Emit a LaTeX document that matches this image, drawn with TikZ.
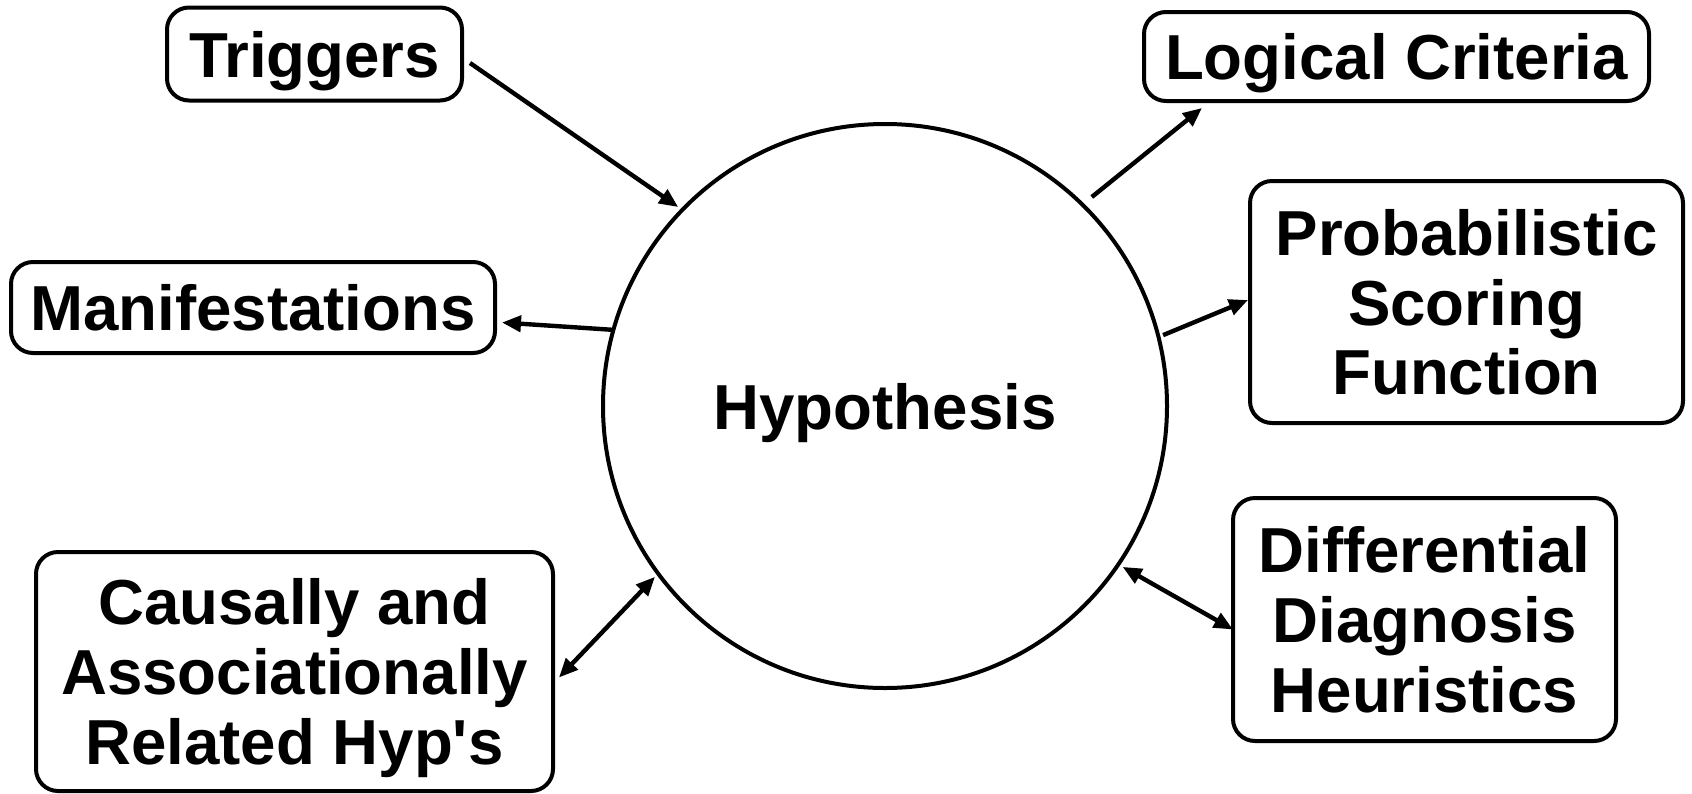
\documentclass[tikz,border=0pt]{standalone}
\usepackage{fontspec}
\setmainfont{Liberation Sans}
\usetikzlibrary{arrows.meta,calc}

\begin{document}
\begin{tikzpicture}[x=0.5pt,y=0.5pt,
  lbl/.style={font=\bfseries\fontsize{31.8}{34.8}\selectfont, align=center, inner sep=0pt, text depth=0pt},
  box/.style={lbl, draw, line width=2pt, rounded corners=11pt},
  hypnode/.style={lbl, draw, circle, line width=2pt, minimum size=282pt},
  tip/.style={Triangle[length=9.5pt,width=8pt]},
  conn/.style={line width=2.2pt, -{Triangle[length=9.5pt,width=8pt]}},
  biconn/.style={line width=2.2pt, {Triangle[length=9.5pt,width=8pt]}-{Triangle[length=9.5pt,width=8pt]}}
]
\useasboundingbox (0,0) rectangle (1692,-793);

% central hypothesis
\node[hypnode] (hyp) at (885,-406) {Hypothesis};

% surrounding boxes
\node[box, minimum width=147.5pt, minimum height=46.5pt] (trig) at (314.5,-54) {Triggers};
\node[box, minimum width=252.5pt, minimum height=44.5pt] (logc) at (1396.5,-56.5) {Logical Criteria};
\node[box, minimum width=242pt, minimum height=45.5pt] (manf) at (253,-307.5) {Manifestations};
\node[box, minimum width=216.5pt, minimum height=121pt] (prob) at (1466.5,-302) {Probabilistic\\Scoring\\Function};
\node[box, minimum width=258.5pt, minimum height=119.5pt] (caus) at (294.5,-671.5) {Causally and\\Associationally\\Related Hyp\textquotesingle s};
\node[box, minimum width=191.5pt, minimum height=121.5pt] (diff) at (1424.5,-619.5) {Differential\\Diagnosis\\Heuristics};

% connectors
\draw[conn] ([shift={(6,-9)}]trig.east) -- ($(hyp.center)+(136.1:287)$);
\draw[conn] ($(hyp.center)+(45.3:294)$) -- ([shift={(-194.5,-5)}]logc.south);
\draw[conn] ($(hyp.center)+(164.4:283.5)$) -- ([shift={(5,-15)}]manf.east);
\draw[conn] ($(hyp.center)+(14.3:287)$) -- ([shift={(0,2)}]prob.west);
\draw[biconn] ([shift={(4,-6)}]caus.east) -- ($(hyp.center)+(216.6:286.5)$);
\draw[biconn] ($(hyp.center)+(-34.1:287)$) -- ([shift={(2,-10)}]diff.west);
\end{tikzpicture}
\end{document}
